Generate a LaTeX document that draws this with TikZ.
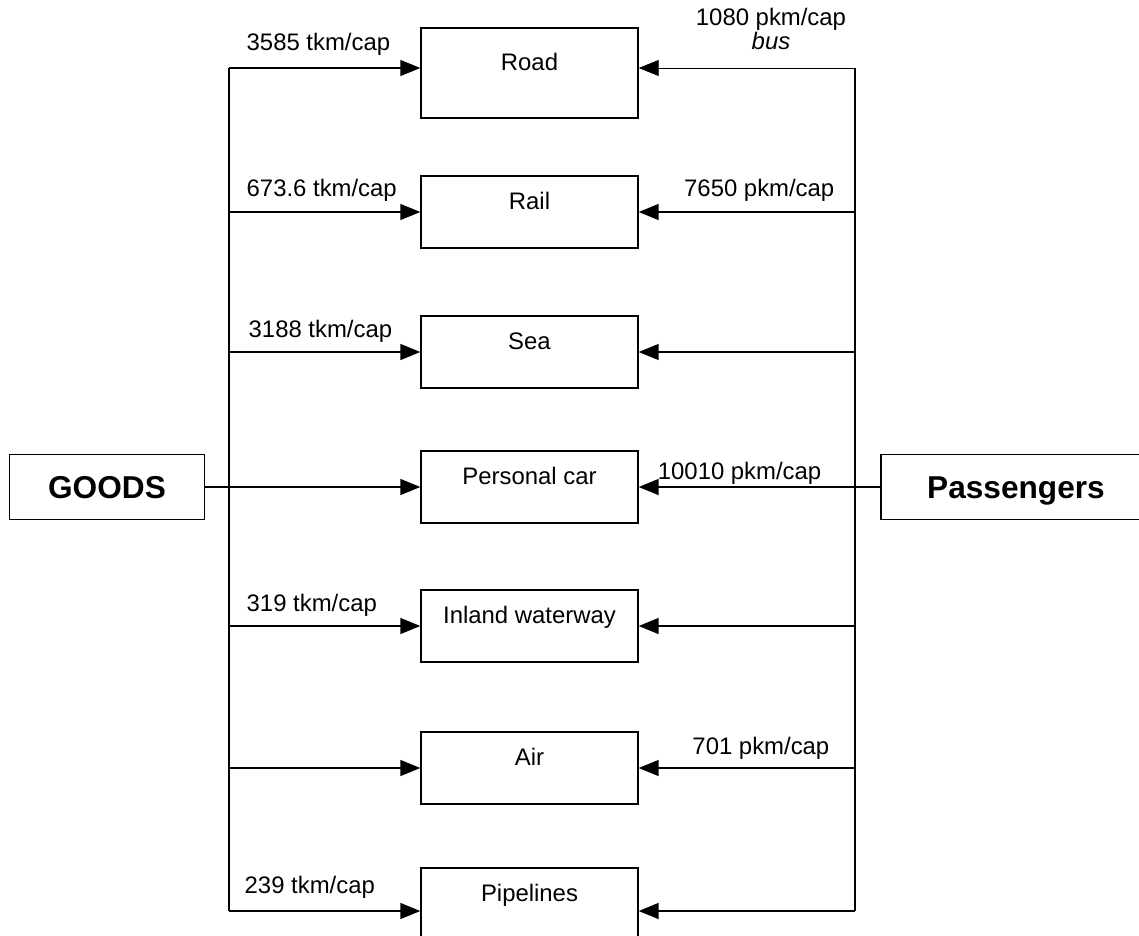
\documentclass[tikz,border=0pt]{standalone}
\usepackage{fontspec}
\setmainfont{Liberation Sans}
\usetikzlibrary{arrows.meta}

\begin{document}
\begin{tikzpicture}[x=0.02cm, y=-0.02cm, line width=0.8pt,
	mode/.style={draw, minimum width=4.34cm, minimum height=1.44cm, inner sep=0pt, text height=1.0ex, text depth=1.5ex, font=\fontsize{13.6}{16}\selectfont},
	side/.style={draw, minimum width=3.9cm, minimum height=1.3cm, inner sep=0pt, text height=13pt, text depth=0pt, font=\fontsize{18}{21}\selectfont\bfseries},
	flow/.style={-{Triangle[length=0.4cm, width=0.32cm]}},
	qty/.style={inner sep=0pt, font=\fontsize{13.6}{16}\selectfont}]
	\useasboundingbox (0, 0) rectangle (1139, 936);
	\clip (0, 0) rectangle (1139, 936);
	% Boxes:
	\node[side] (goods) at (107, 487){GOODS};
	\node[side, minimum width=5.4cm] (pass) at (1016, 487){Passengers};
	\node[mode, minimum height=1.8cm] (road) at (529.5, 73){Road};
	\node[mode] (rail) at (529.5, 212){Rail};
	\node[mode] (sea) at (529.5, 352){Sea};
	\node[mode] (car) at (529.5, 487){Personal car};
	\node[mode] (inland) at (529.5, 626){Inland waterway};
	\node[mode] (air) at (529.5, 768){Air};
	\node[mode] (pipe) at (529.5, 904){Pipelines};
	% Goods side:
	\coordinate (gtop) at (229, 68);
	\coordinate (gbot) at (229, 911);
	\draw (gtop) -- (gbot);
	\draw[flow] (gtop) -- (gtop -| road.west);
	\draw[flow] (rail.west -| gtop) -- (rail.west);
	\draw[flow] (sea.west -| gtop) -- (sea.west);
	\draw[flow] (goods) -- (car);
	\draw[flow] (inland.west -| gtop) -- (inland.west);
	\draw[flow] (air.west -| gtop) -- (air.west);
	\draw[flow] (gbot) -- (gbot -| pipe.west);
	% Passengers side:
	\coordinate (ptop) at (855, 68);
	\coordinate (pbot) at (855, 911);
	\draw (ptop) -- (pbot);
	\draw[flow, line width=0.4pt] (ptop) -- (ptop -| road.east);
	\draw[flow] (rail.east -| ptop) -- (rail.east);
	\draw[flow] (sea.east -| ptop) -- (sea.east);
	\draw[flow] (pass) -- (car);
	\draw[flow] (inland.east -| ptop) -- (inland.east);
	\draw[flow] (air.east -| ptop) -- (air.east);
	\draw[flow] (pbot) -- (pbot -| pipe.east);
	% Quantities:
	\node[qty, anchor=base west] (groad) at (246, 51){3585 tkm/cap};
	\node[qty, anchor=base west] (grail) at (246, 196){673.6 tkm/cap};
	\node[qty, anchor=base west] (gsea) at (248, 337){3188 tkm/cap};
	\node[qty, anchor=base west] (ginland) at (246, 611){319 tkm/cap};
	\node[qty, anchor=base west] (gpipe) at (244, 893){239 tkm/cap};
	\node[qty, anchor=base] (proad) at (771, 26){1080 pkm/cap};
	\node[qty, anchor=base, font=\fontsize{13.6}{16}\selectfont\itshape] (pbus) at (771, 50){bus};
	\node[qty, anchor=base east] (prail) at (835, 196){7650 pkm/cap};
	\node[qty, anchor=base east] (pcar) at (822, 479){10010 pkm/cap};
	\node[qty, anchor=base east] (pair) at (830, 754){701 pkm/cap};
\end{tikzpicture}
\end{document}
